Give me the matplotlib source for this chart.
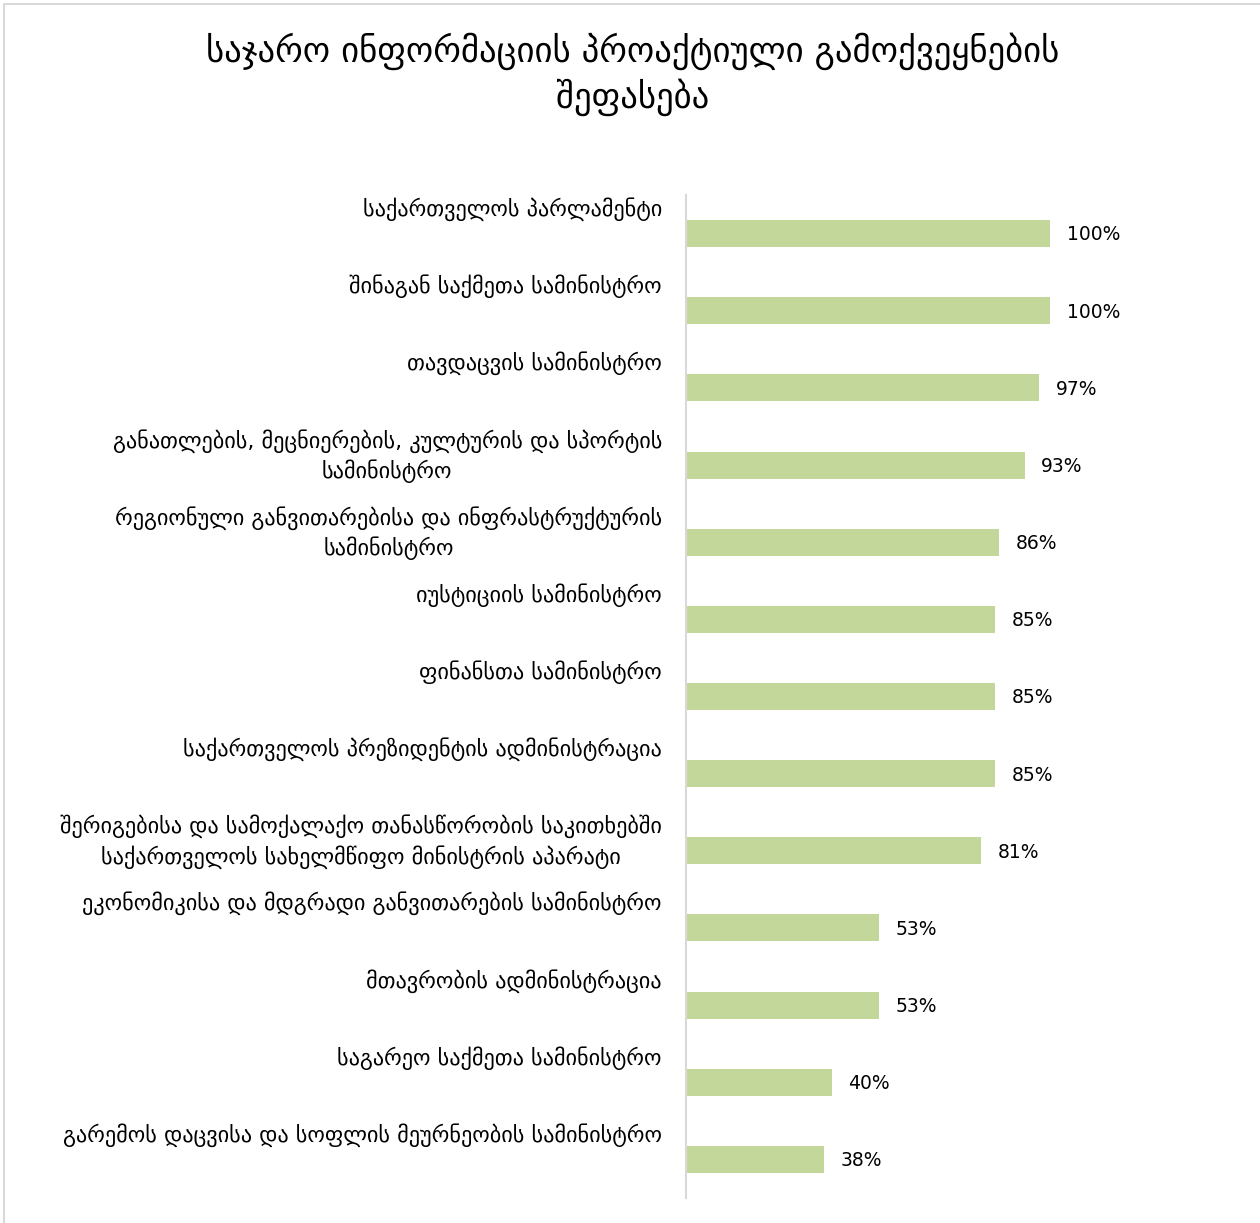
import matplotlib
matplotlib.use("Agg")
import matplotlib.pyplot as plt
from matplotlib.patches import Rectangle
import matplotlib.transforms as mtransforms

plt.rcParams['font.family'] = ['DejaVu Sans']

title = "საჯარო ინფორმაციის პროაქტიული გამოქვეყნების\nშეფასება"

categories = [
    "საქართველოს პარლამენტი",
    "შინაგან საქმეთა სამინისტრო",
    "თავდაცვის სამინისტრო",
    "განათლების, მეცნიერების, კულტურის და სპორტის\nსამინისტრო",
    "რეგიონული განვითარებისა და ინფრასტრუქტურის\nსამინისტრო",
    "იუსტიციის სამინისტრო",
    "ფინანსთა სამინისტრო",
    "საქართველოს პრეზიდენტის ადმინისტრაცია",
    "შერიგებისა და სამოქალაქო თანასწორობის საკითხებში\nსაქართველოს სახელმწიფო მინისტრის აპარატი",
    "ეკონომიკისა და მდგრადი განვითარების სამინისტრო",
    "მთავრობის ადმინისტრაცია",
    "საგარეო საქმეთა სამინისტრო",
    "გარემოს დაცვისა და სოფლის მეურნეობის სამინისტრო",
]
values = [100, 100, 97, 93, 86, 85, 85, 85, 81, 53, 53, 40, 38]

bar_color = "#C4D79B"

fig = plt.figure(figsize=(12.6, 12.23), dpi=100)

# light frame around the chart area
fig.patches.append(Rectangle((4 / 1260, -0.1), 1.2, 1.1 - 4 / 1223,
                             transform=fig.transFigure, fill=False,
                             edgecolor="#D9D9D9", linewidth=1.5))

ax = fig.add_axes([686 / 1260, 1 - 1198 / 1223, 364 / 1260, 1003 / 1223])
pos = list(range(len(categories)))
ax.barh(pos, values, height=0.35, color=bar_color)
ax.set_xlim(0, 100)
ax.set_ylim(len(categories) - 0.5, -0.5)

for s in ["top", "right", "bottom"]:
    ax.spines[s].set_visible(False)
ax.spines["left"].set_color("#D9D9D9")
ax.spines["left"].set_linewidth(1.5)
ax.set_xticks([])
ax.set_yticks([])

# category labels sit near the top of each slot
trans = mtransforms.blended_transform_factory(ax.transAxes, ax.transData)
for i, name in enumerate(categories):
    ax.text(-24 / 364, i - 0.47, name, transform=trans, ha="right", va="top",
            multialignment="center", fontsize=16, linespacing=1.36)

for i, v in enumerate(values):
    ax.annotate(f"{v}%", (v, i), xytext=(12, -1), textcoords="offset points",
                ha="left", va="center", fontsize=13.5, annotation_clip=False)

fig.text(633 / 1260, 1 - 74 / 1223, title, ha="center", va="center",
         fontsize=25, linespacing=1.3)

fig.savefig("out.png", dpi=100)
